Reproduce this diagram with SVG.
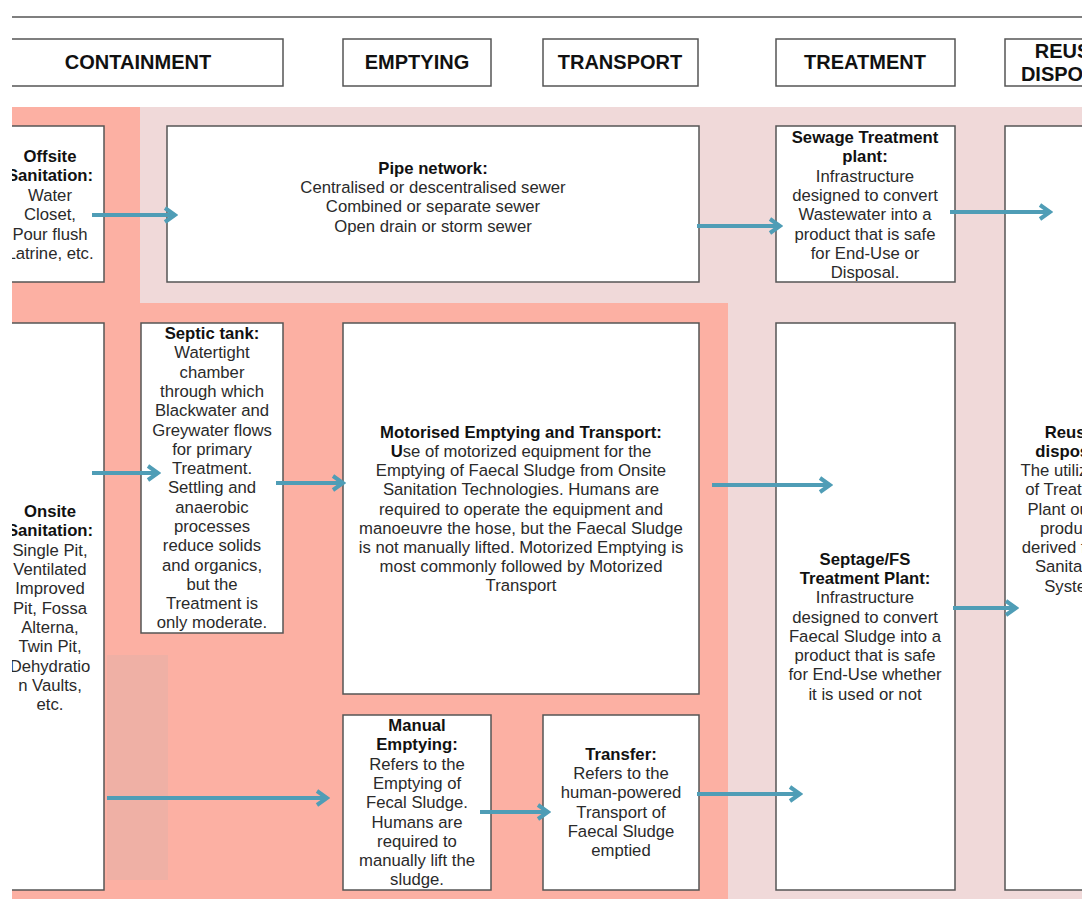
<svg xmlns="http://www.w3.org/2000/svg" width="1086" height="899" viewBox="0 0 1086 899">
<style>
  .box{fill:#fff;stroke:#555;stroke-width:1.5}
  .hdr{fill:#fff;stroke:#555;stroke-width:1.5}
  .ht{font-family:"Liberation Sans",Arial,sans-serif;font-size:20px;font-weight:bold;fill:#111;text-anchor:middle}
  .t{font-family:"Liberation Sans",Arial,sans-serif;font-size:16.7px;fill:#2a2a2a;text-anchor:middle}
  .b{font-weight:bold;fill:#111}
  .arr{stroke:#4f9db6;stroke-width:4;fill:none;marker-end:url(#ah)}
</style>
<defs>
  <clipPath id="crop"><rect x="12" y="0" width="1070" height="899"/></clipPath>
  <marker id="ah" markerUnits="userSpaceOnUse" markerWidth="16" markerHeight="18" refX="13" refY="9" orient="auto">
    <path d="M3,2 L13,9 L3,16" fill="none" stroke="#4f9db6" stroke-width="4"/>
  </marker>
</defs>
<rect width="1086" height="899" fill="#fff"/>
<g clip-path="url(#crop)">
  <line x1="12" y1="17" x2="1082" y2="17" stroke="#555" stroke-width="1.5"/>
  <g id="bands">
    <rect x="12" y="107" width="1070" height="792" fill="#f0d9d9"/>
    <rect x="12" y="107" width="128" height="792" fill="#fcb0a3"/>
    <rect x="12" y="303" width="716" height="596" fill="#fcb0a3"/>
    <rect x="107" y="655" width="61" height="225" fill="#efb0a5"/>
  </g>
  <g id="h-containment"><rect class="hdr" x="-10" y="39" width="293" height="47"/><text class="ht" x="138" y="69">CONTAINMENT</text></g>
  <g id="h-emptying"><rect class="hdr" x="343" y="39" width="148" height="47"/><text class="ht" x="417" y="69">EMPTYING</text></g>
  <g id="h-transport"><rect class="hdr" x="543" y="39" width="155" height="47"/><text class="ht" x="620" y="69">TRANSPORT</text></g>
  <g id="h-treatment"><rect class="hdr" x="776" y="39" width="179" height="47"/><text class="ht" x="865" y="69">TREATMENT</text></g>
  <g id="h-reuse"><rect class="hdr" x="1005" y="39" width="120" height="47"/><text class="ht" x="1072" y="58">REUSE/</text><text class="ht" x="1072" y="81">DISPOSAL</text></g>

  <g id="offsite"><rect class="box" x="-10" y="126" width="114" height="156"/>
    <text class="t"><tspan class="b" x="50" y="162">Offsite</tspan><tspan class="b" x="50" y="181">Sanitation:</tspan><tspan x="50" y="201">Water</tspan><tspan x="50" y="220">Closet,</tspan><tspan x="50" y="240">Pour flush</tspan><tspan x="50" y="259">Latrine, etc.</tspan></text></g>
  <g id="pipe"><rect class="box" x="167" y="126" width="532" height="156"/>
    <text class="t"><tspan class="b" x="433" y="174">Pipe network:</tspan><tspan x="433" y="193">Centralised or descentralised sewer</tspan><tspan x="433" y="212">Combined or separate sewer</tspan><tspan x="433" y="232">Open drain or storm sewer</tspan></text></g>
  <g id="sewage"><rect class="box" x="776" y="126" width="179" height="156"/>
    <text class="t"><tspan class="b" x="865" y="143">Sewage Treatment</tspan><tspan class="b" x="865" y="162">plant:</tspan><tspan x="865" y="182">Infrastructure</tspan><tspan x="865" y="201">designed to convert</tspan><tspan x="865" y="220">Wastewater into a</tspan><tspan x="865" y="240">product that is safe</tspan><tspan x="865" y="259">for End-Use or</tspan><tspan x="865" y="278">Disposal.</tspan></text></g>
  <g id="reuse"><rect class="box" x="1005" y="126" width="120" height="764"/>
    <text class="t"><tspan class="b" x="1072" y="438">Reuse/</tspan><tspan class="b" x="1072" y="457">disposal:</tspan><tspan x="1072" y="476">The utilization</tspan><tspan x="1072" y="495">of Treatment</tspan><tspan x="1072" y="515">Plant output</tspan><tspan x="1072" y="534">products</tspan><tspan x="1068" y="553">derived from</tspan><tspan x="1072" y="572">Sanitation</tspan><tspan x="1072" y="592">System</tspan></text></g>
  <g id="onsite"><rect class="box" x="-10" y="323" width="114" height="567"/>
    <text class="t"><tspan class="b" x="50" y="517">Onsite</tspan><tspan class="b" x="50" y="536">Sanitation:</tspan><tspan x="50" y="556">Single Pit,</tspan><tspan x="50" y="575">Ventilated</tspan><tspan x="50" y="594">Improved</tspan><tspan x="50" y="614">Pit, Fossa</tspan><tspan x="50" y="633">Alterna,</tspan><tspan x="50" y="652">Twin Pit,</tspan><tspan x="50" y="672">Dehydratio</tspan><tspan x="50" y="691">n Vaults,</tspan><tspan x="50" y="710">etc.</tspan></text></g>
  <g id="septic"><rect class="box" x="141" y="323" width="142" height="310"/>
    <text class="t"><tspan class="b" x="212" y="339">Septic tank:</tspan><tspan x="212" y="358">Watertight</tspan><tspan x="212" y="378">chamber</tspan><tspan x="212" y="397">through which</tspan><tspan x="212" y="416">Blackwater and</tspan><tspan x="212" y="436">Greywater flows</tspan><tspan x="212" y="455">for primary</tspan><tspan x="212" y="474">Treatment.</tspan><tspan x="212" y="493">Settling and</tspan><tspan x="212" y="513">anaerobic</tspan><tspan x="212" y="532">processes</tspan><tspan x="212" y="551">reduce solids</tspan><tspan x="212" y="571">and organics,</tspan><tspan x="212" y="590">but the</tspan><tspan x="212" y="609">Treatment is</tspan><tspan x="212" y="628">only moderate.</tspan></text></g>
  <g id="motorised"><rect class="box" x="343" y="323" width="356" height="371"/>
    <text class="t"><tspan class="b" x="521" y="438">Motorised Emptying and Transport:</tspan><tspan x="521" y="457"><tspan class="b">U</tspan>se of motorized equipment for the</tspan><tspan x="521" y="476">Emptying of Faecal Sludge from Onsite</tspan><tspan x="521" y="495">Sanitation Technologies. Humans are</tspan><tspan x="521" y="515">required to operate the equipment and</tspan><tspan x="521" y="534">manoeuvre the hose, but the Faecal Sludge</tspan><tspan x="521" y="553">is not manually lifted. Motorized Emptying is</tspan><tspan x="521" y="572">most commonly followed by Motorized</tspan><tspan x="521" y="591">Transport</tspan></text></g>
  <g id="septage"><rect class="box" x="776" y="323" width="179" height="567"/>
    <text class="t"><tspan class="b" x="865" y="565">Septage/FS</tspan><tspan class="b" x="865" y="584">Treatment Plant:</tspan><tspan x="865" y="603">Infrastructure</tspan><tspan x="865" y="623">designed to convert</tspan><tspan x="865" y="642">Faecal Sludge into a</tspan><tspan x="865" y="661">product that is safe</tspan><tspan x="865" y="680">for End-Use whether</tspan><tspan x="865" y="700">it is used or not</tspan></text></g>
  <g id="manual"><rect class="box" x="343" y="715" width="148" height="175"/>
    <text class="t"><tspan class="b" x="417" y="731">Manual</tspan><tspan class="b" x="417" y="750">Emptying:</tspan><tspan x="417" y="770">Refers to the</tspan><tspan x="417" y="789">Emptying of</tspan><tspan x="417" y="808">Fecal Sludge.</tspan><tspan x="417" y="828">Humans are</tspan><tspan x="417" y="847">required to</tspan><tspan x="417" y="866">manually lift the</tspan><tspan x="417" y="885">sludge.</tspan></text></g>
  <g id="transfer"><rect class="box" x="543" y="715" width="156" height="175"/>
    <text class="t"><tspan class="b" x="621" y="760">Transfer:</tspan><tspan x="621" y="779">Refers to the</tspan><tspan x="621" y="798">human-powered</tspan><tspan x="621" y="818">Transport of</tspan><tspan x="621" y="837">Faecal Sludge</tspan><tspan x="621" y="856">emptied</tspan></text></g>

  <g id="connectors">
    <line class="arr" x1="92" y1="215" x2="175" y2="215"/>
    <line class="arr" x1="697" y1="226" x2="780" y2="226"/>
    <line class="arr" x1="950" y1="212" x2="1050" y2="212"/>
    <line class="arr" x1="92" y1="473" x2="158" y2="473"/>
    <line class="arr" x1="276" y1="483" x2="343" y2="483"/>
    <line class="arr" x1="712" y1="485" x2="830" y2="485"/>
    <line class="arr" x1="953" y1="608" x2="1016" y2="608"/>
    <line class="arr" x1="107" y1="798" x2="327" y2="798"/>
    <line class="arr" x1="480" y1="812" x2="548" y2="812"/>
    <line class="arr" x1="697" y1="794" x2="800" y2="794"/>
  </g>
</g>
</svg>
